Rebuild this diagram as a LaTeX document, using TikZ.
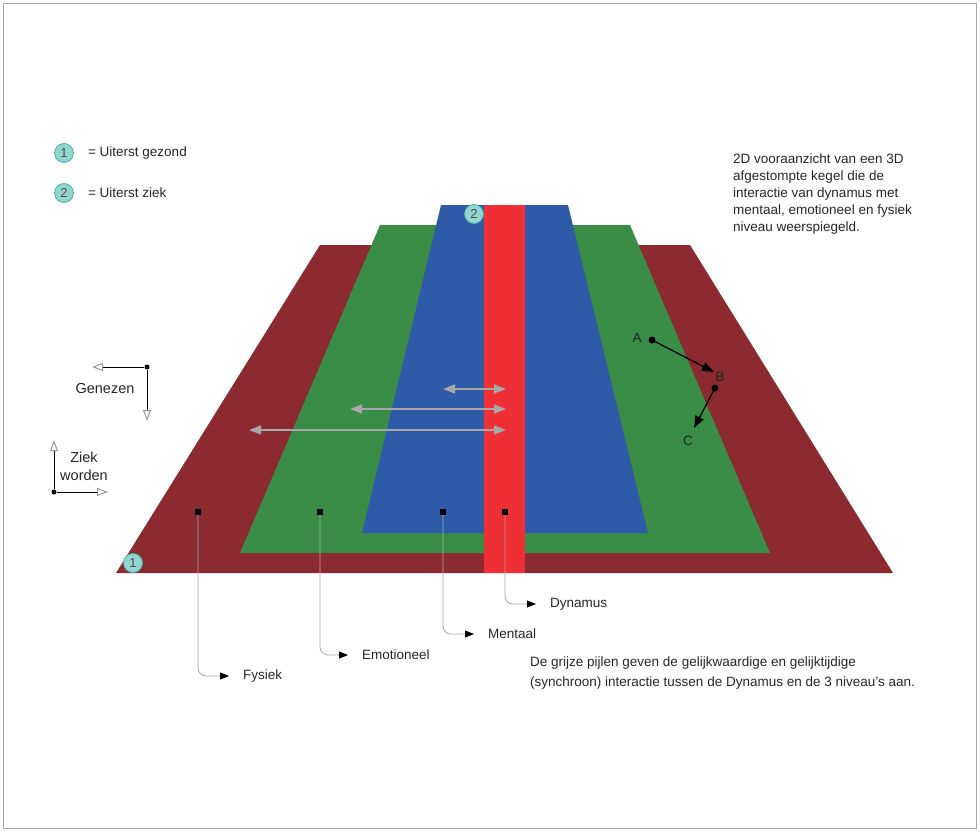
\documentclass[tikz,border=0pt]{standalone}
\usepackage{fontspec}
\setmainfont{Liberation Sans}
\usetikzlibrary{arrows.meta, positioning}

\definecolor{fysiekred}{HTML}{8B2B30}
\definecolor{emogreen}{HTML}{3A8D47}
\definecolor{mentblue}{HTML}{2E5AA8}
\definecolor{dynred}{HTML}{EE3036}
\definecolor{markfill}{HTML}{93D6D0}
\definecolor{markline}{HTML}{4AAFA8}
\definecolor{greyline}{HTML}{A8A8A8}

\tikzset{
  txt/.style={font=\fontsize{13.5}{17}\selectfont, inner sep=0pt, text=black!85},
  bigtxt/.style={font=\fontsize{14.5}{18}\selectfont, inner sep=0pt, text=black!85},
  marker/.style={circle, fill=markfill, draw=markline, line width=0.8pt,
    minimum size=19pt, inner sep=0pt, font=\fontsize{13}{13}\selectfont, text=black!70},
  sq/.style={rectangle, fill=black, minimum size=6pt, inner sep=0pt},
  dot/.style={circle, fill=black, minimum size=7pt, inner sep=0pt},
  leader/.style={greyline, line width=0.8pt, rounded corners=8pt,
    -{Triangle[length=9pt,width=7pt,color=black]}},
  sync/.style={greyline, line width=1.5pt,
    {Triangle[length=12pt,width=9pt]}-{Triangle[length=12pt,width=9pt]}},
  move/.style={black, line width=1.3pt, -{Triangle[length=12pt,width=9pt]}},
  way/.style={black, line width=1pt, -{Triangle[open,length=11pt,width=8pt,color=black!40,fill=white]}}
}

\begin{document}
\begin{tikzpicture}[x=1pt,y=-1pt]

\useasboundingbox (0,0) rectangle (980,831);
\draw[black!35] (3,3) rectangle (976,828);

% Fysiek level
\fill[fysiekred] (116,573) -- (320,245) -- (690,245) -- (893,573) -- cycle;

% Emotioneel level
\fill[emogreen] (240,553) -- (380,225) -- (630,225) -- (770,553) -- cycle;

% Mentaal level
\fill[mentblue] (362,533) -- (441,205) -- (568,205) -- (648,533) -- cycle;

% Dynamus
\fill[dynred] (484,205) rectangle (525,573);

% Legend
\node[marker] (leg1) at (64,153) {1};
\node[txt, right=14pt of leg1] (leg1txt) {= Uiterst gezond};
\node[marker] (leg2) at (64,193) {2};
\node[txt, right=14pt of leg2] (leg2txt) {= Uiterst ziek};

\node[marker] (healthy) at (133,563) {1};
\node[marker] (ill) at (474,214) {2};

% Description
\node[txt, anchor=north west, align=left] (descr) at (733,154)
  {2D vooraanzicht van een 3D\\afgestompte kegel die de\\interactie van dynamus met\\mentaal, emotioneel en fysiek\\niveau weerspiegeld.};

% Grey arrows: synchronous interaction
\foreach \xl/\y in {443/389, 350/409, 249/430}
{
    \draw[sync] (\xl,\y) -- (506,\y);
}

% A -> B -> C
\node[dot] (ptA) at (652,340) {};
\node[txt] (labA) at (637,338) {A};
\coordinate (endAB) at (714,372);
\draw[move] (ptA) -- (endAB);
\node[dot] (ptB) at (715,388) {};
\node[txt] (labB) at (720,377) {B};
\coordinate (endBC) at (694,428);
\draw[move] (ptB) -- (endBC);
\node[txt] (labC) at (688,441) {C};

% Genezen
\node[dot, minimum size=5pt] (gen) at (147,367) {};
\coordinate (genL) at (92,367);
\coordinate (genD) at (147,421);
\draw[way] (gen) -- (genL);
\draw[way] (gen) -- (genD);
\node[bigtxt] (gentxt) at (105,388) {Genezen};

% Ziek worden
\node[dot, minimum size=5pt] (zw) at (54,492) {};
\coordinate (zwU) at (54,440);
\coordinate (zwR) at (108,492);
\draw[way] (zw) -- (zwU);
\draw[way] (zw) -- (zwR);
\node[bigtxt, align=center] (zwtxt) at (84,466) {Ziek\\worden};

% Level labels
\node[sq] (qf) at (198,512) {};
\node[sq] (qe) at (320,512) {};
\node[sq] (qm) at (443,512) {};
\node[sq] (qd) at (505,512) {};

\node[txt, anchor=west] (tf) at (243,676) {Fysiek};
\node[txt, anchor=west] (te) at (362,655) {Emotioneel};
\node[txt, anchor=west] (tm) at (488,634) {Mentaal};
\node[txt, anchor=west] (td) at (550,604) {Dynamus};

\draw[leader] (qf) |- ([xshift=-14pt]tf.west);
\draw[leader] (qe) |- ([xshift=-14pt]te.west);
\draw[leader] (qm) |- ([xshift=-14pt]tm.west);
\draw[leader] (qd) |- ([xshift=-14pt]td.west);

% Note on the grey arrows
\node[txt, anchor=north west, align=left, font=\fontsize{13.5}{20}\selectfont] (note) at (530,657)
  {De grijze pijlen geven de gelijkwaardige en gelijktijdige\\(synchroon) interactie tussen de Dynamus en de 3 niveau's aan.};

\end{tikzpicture}
\end{document}
